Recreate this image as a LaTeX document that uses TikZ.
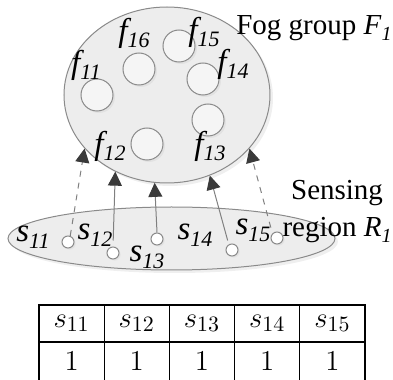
\documentclass[tikz,border=0pt]{standalone}
\usepackage{amsmath}
\usepackage{xcolor}
\usepackage{fontspec}
\newfontfamily\tms{Liberation Serif}
\usepackage{tikz}
\usetikzlibrary{positioning,shapes.geometric,arrows.meta,shadows}
\definecolor{areafill}{HTML}{EDEDED}
\definecolor{rimgray}{HTML}{8A8A8A}
\definecolor{headgray}{HTML}{3A3A3A}
\tikzset{
    region/.style={ellipse, draw=rimgray, fill=areafill, line width=0.5pt, inner sep=0pt,
        drop shadow={shadow xshift=1.5pt, shadow yshift=-1.5pt, fill=gray!25}},
    fognode/.style={circle, draw=rimgray, fill=white!96!black, line width=0.5pt, minimum size=16pt, inner sep=0pt,
        drop shadow={shadow xshift=1pt, shadow yshift=-1pt, fill=gray!30}},
    sensor/.style={circle, draw=rimgray, fill=white, line width=0.5pt, minimum size=6pt, inner sep=0pt,
        drop shadow={shadow xshift=0.8pt, shadow yshift=-0.8pt, fill=gray!30}},
    tag/.style={font=\tms\fontsize{16.5}{16.5}\selectfont\itshape, inner sep=0pt},
    caption/.style={font=\tms\fontsize{14.5}{18.5}\selectfont, inner sep=0pt, align=center},
    link/.style={draw=gray, line width=0.5pt, -{Triangle[length=7pt, width=7pt, color=headgray]}},
    cell/.style={font=\fontsize{15}{17}\selectfont, inner sep=0pt}
}
\newcommand{\lab}[2]{#1\raisebox{-0.45ex}{\fontsize{11}{11}\selectfont #2}}

\begin{document}
\begin{tikzpicture}[x=0.5pt, y=-0.5pt]
    \useasboundingbox (0,0) rectangle (393,380);

    % fog group
    \node[region, minimum width=103pt, minimum height=88pt] (fog) at (167,95) {};
    \node[fognode] (c11) at (97,95) {};
    \node[fognode] (c12) at (147,144) {};
    \node[fognode] (c13) at (208,120) {};
    \node[fognode] (c14) at (203,79) {};
    \node[fognode] (c15) at (179,46) {};
    \node[fognode] (c16) at (139,69) {};
    \node[tag] (f11) at (86,65) {\lab{f}{11}};
    \node[tag] (f12) at (110,146) {\lab{f}{12}};
    \node[tag] (f13) at (210,146) {\lab{f}{13}};
    \node[tag] (f14) at (233,64) {\lab{f}{14}};
    \node[tag] (f15) at (204,32) {\lab{f}{15}};
    \node[tag] (f16) at (134,33) {\lab{f}{16}};
    \node[caption, anchor=east] (fogcap) at (392,28) {Fog group \textit{F}\raisebox{-0.45ex}{\fontsize{10}{10}\selectfont\textit{1}}};

    % sensing region
    \node[region, minimum width=163.5pt, minimum height=31.5pt] (area) at (171.5,238.5) {};
    \node[sensor] (s11c) at (68,242) {};
    \node[sensor] (s12c) at (113,253) {};
    \node[sensor] (s13c) at (157,239) {};
    \node[sensor] (s14c) at (232,250) {};
    \node[sensor] (s15c) at (277,238) {};
    \node[tag] (s11) at (33,237) {\lab{s}{11}};
    \node[tag] (s12) at (95,235) {\lab{s}{12}};
    \node[tag] (s13) at (147,257) {\lab{s}{13}};
    \node[tag] (s14) at (195,235) {\lab{s}{14}};
    \node[tag] (s15) at (253,230) {\lab{s}{15}};
    \node[caption, anchor=north east] (areacap) at (392,180) {Sensing\\region \textit{R}\raisebox{-0.45ex}{\fontsize{10}{10}\selectfont\textit{1}}};

    % uploads
    \draw[link, dashed] (s11c.70) -- (fog.213.7);
    \draw[link, shorten <=3pt] (s12c.north) -- (fog.236.3);
    \draw[link] (s13c.north) -- (fog.262.9);
    \draw[link, shorten <=2pt] (s14c.120) -- (fog.298);
    \draw[link, dashed, shorten <=3pt] (s15c.135) -- (fog.327);

    % table
    \draw[line width=0.6pt] (39,380) |- (365,305) -- (365,380);
    \draw[line width=0.6pt] (39,342) -- (365,342);
    \foreach \k in {1,...,4}
        \draw[line width=0.6pt] ({39+65.2*\k},305) -- ({39+65.2*\k},380);
    \foreach \c [count=\i] in {11,...,15} {
        \node[cell] (h\i) at ({39+65.2*(\i-0.5)},323.5) {$s_{\c}$};
        \node[cell] (v\i) at ({39+65.2*(\i-0.5)},361) {$1$};
    }
\end{tikzpicture}
\end{document}
